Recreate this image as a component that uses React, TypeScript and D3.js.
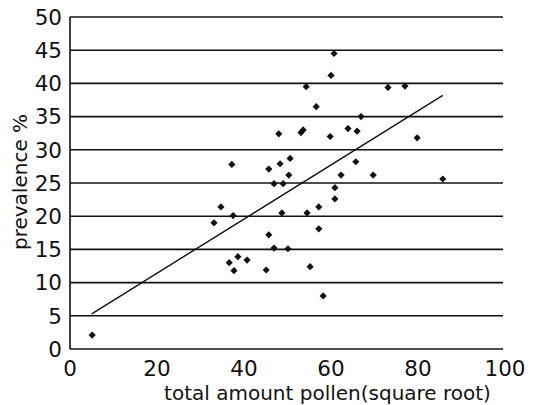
import React from 'react';
import * as d3 from 'd3';

// pollen (sqrt) vs prevalence
const pollen = [
  5.1, 33.1, 34.7, 37.5, 37.2, 36.6, 38.6, 40.7, 37.7, 45.1, 45.7, 46.9, 50.1,
  45.7, 48.3, 50.6, 50.3, 46.9, 49.0, 48.7, 48.0, 53.1, 53.6, 54.3, 54.5, 55.2,
  56.6, 57.2, 57.2, 58.2, 59.8, 60.0, 60.7, 60.9, 60.9, 62.3, 63.9, 65.7, 66.0,
  66.9, 69.7, 73.1, 77.0, 79.8, 85.7,
];
const prevalence = [
  2.1, 19.0, 21.4, 20.1, 27.8, 13.0, 13.9, 13.4, 11.8, 11.9, 17.2, 15.2, 15.1,
  27.1, 27.9, 28.7, 26.2, 24.9, 24.9, 20.5, 32.4, 32.6, 33.0, 39.5, 20.5, 12.4,
  36.5, 21.4, 18.1, 8.0, 32.0, 41.2, 44.5, 24.3, 22.6, 26.2, 33.2, 28.2, 32.8,
  35.0, 26.2, 39.4, 39.6, 31.8, 25.6,
];
const trendX = [5, 85.7];
const trendY = [5.3, 38.2];
const xTicks = [0, 20, 40, 60, 80, 100];
const yTicks = [0, 5, 10, 15, 20, 25, 30, 35, 40, 45, 50];

const W = 533;
const H = 405;
const font = '"DejaVu Sans", sans-serif';

export default function App() {
  const x = d3.scaleLinear().domain([0, 100]).range([70, 505]);
  const y = d3.scaleLinear().domain([0, 50]).range([349, 17]);
  const gridRight = 503;

  // square turned 45deg, like the original markers
  const marker = d3.symbol().type(d3.symbolSquare).size(26)();
  const line = d3.line<number>()
    .x((d) => x(d))
    .y((_, i) => y(trendY[i]));

  return (
    <div style={{ position: 'absolute', left: 0, top: 0 }}>
      <svg width={W} height={H} style={{ display: 'block', background: '#fff' }}>
        {/* gridlines */}
        {yTicks.map((t) => (
          <line key={t} x1={x(0)} x2={gridRight} y1={y(t)} y2={y(t)}
            stroke="#111" strokeWidth={1.6} />
        ))}
        <line x1={x(0)} x2={x(0)} y1={y(50)} y2={y(0)} stroke="#111" strokeWidth={1.6} />

        {/* y tick labels */}
        {yTicks.map((t) => (
          <text key={t} x={62} y={y(t)} dy="0.36em" textAnchor="end"
            fontFamily={font} fontSize={21.5} fill="#111">{t}</text>
        ))}
        {/* x tick labels */}
        {xTicks.map((t) => (
          <text key={t} x={x(t)} y={376} textAnchor="middle"
            fontFamily={font} fontSize={21.5} fill="#111">{t}</text>
        ))}

        {/* trend line */}
        <path d={line(trendX) ?? ''} fill="none" stroke="#111" strokeWidth={1.4} />

        {/* points */}
        {pollen.map((p, i) => (
          <path key={i} d={marker ?? ''}
            transform={`translate(${x(p)},${y(prevalence[i])}) rotate(45)`}
            fill="#111" />
        ))}

        {/* axis titles */}
        <text x={(x(0) + x(100)) / 2 + 40} y={400} textAnchor="middle"
          fontFamily={font} fontSize={20} fill="#111">total amount pollen(square root)</text>
        <text transform={`translate(27,${182}) rotate(-90)`} textAnchor="middle"
          fontFamily={font} fontSize={20} fill="#111">prevalence %</text>
      </svg>
    </div>
  );
}
